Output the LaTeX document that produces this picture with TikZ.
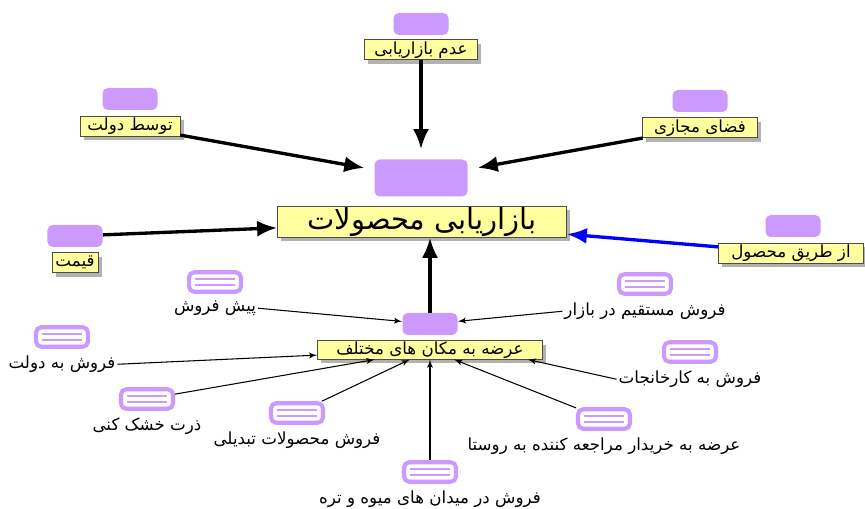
\documentclass[tikz,border=0pt]{standalone}
\usepackage{fontspec}
\newfontfamily\farsifont[Script=Arabic]{DejaVu Sans}
\TeXXeTstate=1
\usetikzlibrary{shapes,arrows,arrows.meta,positioning,shadows}
\definecolor{lilac}{RGB}{204,153,255}
\definecolor{lemon}{RGB}{255,255,160}
\newcommand{\fa}[1]{\beginR #1\endR}
\tikzstyle{topic} = [fill=lilac, rounded corners=3pt,
    minimum width=11mm, minimum height=4.4mm]
\tikzstyle{tag} = [draw=black!70, fill=lemon, inner sep=0.5pt,
    minimum height=4mm, font=\farsifont\fontsize{9.5}{10}\selectfont,
    drop shadow={shadow xshift=2.2pt, shadow yshift=-2.2pt, fill=gray!60, opacity=1}]
\tikzstyle{leaf} = [draw=lilac, line width=2.3pt, fill=white, rounded corners=3pt,
    minimum width=10.4mm, minimum height=3.9mm,
    path picture={\draw[lilac, line width=1.3pt]
      ([xshift=1.2mm,yshift=0.6mm]path picture bounding box.west) -- ([xshift=-1.2mm,yshift=0.6mm]path picture bounding box.east)
      ([xshift=1.2mm,yshift=-0.6mm]path picture bounding box.west) -- ([xshift=-1.2mm,yshift=-0.6mm]path picture bounding box.east);}]
\tikzstyle{note} = [inner sep=1pt, font=\farsifont\fontsize{9.5}{10}\selectfont]
\tikzstyle{mainline} = [-{Latex[length=4mm,width=3.2mm]}, line width=1.9pt]
\tikzstyle{twig} = [->, line width=0.6pt]

\begin{document}
\begin{tikzpicture}[x=0.2mm, y=-0.2mm, >=latex', node distance=1mm]
    \useasboundingbox (0,0) rectangle (865,509);
    % The central topic and the topics pointing at it
    \node [topic, minimum width=18.6mm, minimum height=7.4mm] (market) at (421,178) {};
    \node [tag, minimum width=57.8mm, minimum height=6mm,
           font=\farsifont\fontsize{16.5}{17}\selectfont] (markettag) at (422,222) {\fa{بازاریابی محصولات}};
    \node [topic] (nomarket) at (421,24) {};
    \node [tag, below=0.8mm of nomarket, minimum width=22.6mm] (nomarkettag) {\fa{عدم بازاریابی}};
    \node [topic] (gov) at (130,99) {};
    \node [tag, below=1.1mm of gov, minimum width=20mm] (govtag) {\fa{توسط دولت}};
    \node [topic] (virtual) at (700,101) {};
    \node [tag, below=1mm of virtual, minimum width=23mm] (virtualtag) {\fa{فضای مجازی}};
    \node [topic] (price) at (75,236) {};
    \node [tag, below=1mm of price, minimum width=9.2mm] (pricetag) {\fa{قیمت}};
    \node [topic] (product) at (793,226) {};
    \node [tag, minimum width=29mm] (producttag) at (791,253) {\fa{از طریق محصول}};
    % The sub topic with its leaves
    \node [topic] (hub) at (430,324) {};
    \node [tag, below=1mm of hub, minimum width=45mm, minimum height=3.6mm] (hubtag) {\fa{عرضه به مکان های مختلف}};
    \node [leaf] (presale) at (215,282) {};
    \node [note, below=of presale] (presalenote) {\fa{پیش فروش}};
    \node [leaf] (direct) at (645,284) {};
    \node [note, below=of direct] (directnote) {\fa{فروش مستقیم در بازار}};
    \node [leaf] (state) at (62,337) {};
    \node [note, below=of state] (statenote) {\fa{فروش به دولت}};
    \node [leaf] (factory) at (690,352) {};
    \node [note, below=of factory] (factorynote) {\fa{فروش به کارخانجات}};
    \node [leaf] (drying) at (147,399) {};
    \node [note, below=of drying] (dryingnote) {\fa{ذرت خشک کنی}};
    \node [leaf] (converted) at (297,413) {};
    \node [note, below=of converted] (convertednote) {\fa{فروش محصولات تبدیلی}};
    \node [leaf] (fruit) at (430,472) {};
    \node [note, below=of fruit] (fruitnote) {\fa{فروش در میدان های میوه و تره}};
    \node [leaf] (village) at (604,419) {};
    \node [note, below=of village] (villagenote) {\fa{عرضه به خریدار مراجعه کننده به روستا}};
    % Arrows into the central topic
    \draw [mainline, shorten >=2mm] (nomarkettag) -- (market);
    \draw [mainline, shorten >=2mm] (govtag) -- (market);
    \draw [mainline, shorten >=2mm] (virtualtag) -- (market);
    \draw [mainline] (price) -- (markettag);
    \draw [mainline, blue] (producttag) -- (markettag);
    \draw [mainline] (hub.north) -- (hub.north |- markettag.south);
    % Leaves into the sub topic
    \draw [twig] (presalenote.east) -- (hub);
    \draw [twig] (directnote.west) -- (hub);
    \draw [twig] (statenote.east) -- (hubtag);
    \draw [twig] (factorynote.west) -- ([xshift=-3mm]hubtag.south east);
    \draw [twig] (drying) -- (hubtag);
    \draw [twig] (converted) -- (hubtag);
    \draw [twig] (fruit) -- (hubtag);
    \draw [twig] (village) -- (hubtag);
\end{tikzpicture}
\end{document}
